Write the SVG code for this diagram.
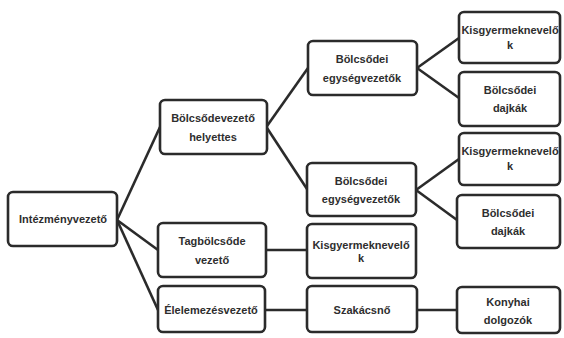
<svg xmlns="http://www.w3.org/2000/svg" width="564" height="338" viewBox="0 0 564 338">
<style>
.b{fill:#fff;stroke:#2b2b2b;stroke-width:2.6}
.t{font-family:"Liberation Sans",Arial,sans-serif;font-weight:bold;font-size:11px;fill:#2e2e2e;text-anchor:middle;dominant-baseline:central}
.c{stroke:#2b2b2b;stroke-width:2.6;fill:none}
</style>
<rect width="564" height="338" fill="#fff"/>
<g id="connectors">
<line class="c" x1="117" y1="220" x2="160" y2="127"/>
<line class="c" x1="117" y1="220" x2="158" y2="250"/>
<line class="c" x1="117" y1="220" x2="158" y2="310"/>
<line class="c" x1="267" y1="126" x2="308" y2="68"/>
<line class="c" x1="267" y1="128" x2="307" y2="189"/>
<line class="c" x1="417" y1="68" x2="459" y2="38"/>
<line class="c" x1="417" y1="68" x2="459" y2="98"/>
<line class="c" x1="416" y1="190" x2="459" y2="159"/>
<line class="c" x1="416" y1="190" x2="457" y2="220"/>
<line class="c" x1="266" y1="250" x2="307" y2="250"/>
<line class="c" x1="265" y1="310" x2="307" y2="310"/>
<line class="c" x1="417" y1="310" x2="457" y2="310"/>
</g>
<g id="intezmenyvezeto"><rect class="b" x="8" y="192" width="109" height="54" rx="5"/><text class="t" x="63" y="219">Intézményvezető</text></g>
<g id="bolcsodevezeto-helyettes"><rect class="b" x="160" y="100" width="107" height="54" rx="5"/><text class="t" x="213" y="118">Bölcsődevezető</text><text class="t" x="213" y="137">helyettes</text></g>
<g id="tagbolcsode-vezeto"><rect class="b" x="158" y="223" width="108" height="54" rx="5"/><text class="t" x="212" y="241">Tagbölcsőde</text><text class="t" x="212" y="260">vezető</text></g>
<g id="elelmezesvezeto"><rect class="b" x="158" y="286" width="107" height="46" rx="5"/><text class="t" x="211" y="310">Élelemezésvezető</text></g>
<g id="egysegvezetok-1"><rect class="b" x="308" y="41" width="109" height="54" rx="5"/><text class="t" x="362" y="59">Bölcsődei</text><text class="t" x="362" y="78">egységvezetők</text></g>
<g id="egysegvezetok-2"><rect class="b" x="307" y="163" width="109" height="53" rx="5"/><text class="t" x="361" y="181">Bölcsődei</text><text class="t" x="361" y="199">egységvezetők</text></g>
<g id="kisgyermeknevelok-mid"><rect class="b" x="307" y="224" width="109" height="54" rx="5"/><text class="t" x="361" y="245">Kisgyermeknevelő</text><text class="t" x="361" y="258">k</text></g>
<g id="szakacsno"><rect class="b" x="307" y="286" width="110" height="46" rx="5"/><text class="t" x="362" y="310">Szakácsnő</text></g>
<g id="kisgyermeknevelok-1"><rect class="b" x="459" y="12" width="101" height="51" rx="5"/><text class="t" x="510" y="30">Kisgyermeknevelő</text><text class="t" x="510" y="45">k</text></g>
<g id="dajkak-1"><rect class="b" x="459" y="72" width="101" height="54" rx="5"/><text class="t" x="510" y="90">Bölcsődei</text><text class="t" x="510" y="108">dajkák</text></g>
<g id="kisgyermeknevelok-2"><rect class="b" x="459" y="133" width="101" height="52" rx="5"/><text class="t" x="510" y="151">Kisgyermeknevelő</text><text class="t" x="510" y="166">k</text></g>
<g id="dajkak-2"><rect class="b" x="457" y="195" width="103" height="53" rx="5"/><text class="t" x="508" y="213">Bölcsődei</text><text class="t" x="508" y="231">dajkák</text></g>
<g id="konyhai-dolgozok"><rect class="b" x="457" y="287" width="103" height="46" rx="5"/><text class="t" x="508" y="302">Konyhai</text><text class="t" x="508" y="320">dolgozók</text></g>
</svg>
